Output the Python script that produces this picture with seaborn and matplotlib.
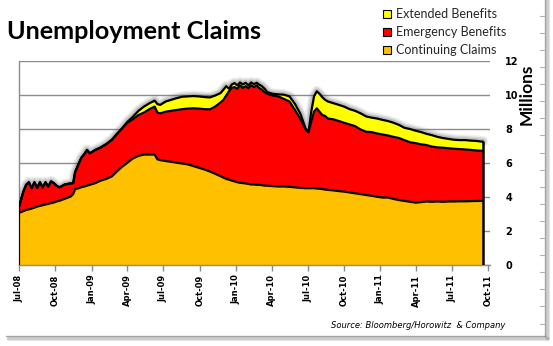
import matplotlib
matplotlib.use("Agg")
import matplotlib.pyplot as plt
from matplotlib.lines import Line2D
from matplotlib.patches import Patch
import seaborn as sns
import pandas as pd

# ---------------- data (millions) ----------------
dates = [
    "2008-07-01", "2008-07-12", "2008-07-19", "2008-07-26", "2008-08-02", "2008-08-09",
    "2008-08-16", "2008-08-23", "2008-08-30", "2008-09-06", "2008-09-13", "2008-09-20",
    "2008-09-27", "2008-10-04", "2008-10-11", "2008-10-25", "2008-11-08", "2008-11-15",
    "2008-11-20", "2008-11-29", "2008-12-06", "2008-12-13", "2008-12-20", "2008-12-27",
    "2009-01-03", "2009-01-10", "2009-01-24", "2009-02-07", "2009-02-21", "2009-03-04",
    "2009-03-18", "2009-04-01", "2009-04-15", "2009-04-29", "2009-05-13", "2009-05-27",
    "2009-06-09", "2009-06-16", "2009-06-23", "2009-07-07", "2009-07-21", "2009-08-04",
    "2009-08-18", "2009-09-01", "2009-09-15", "2009-09-29", "2009-10-13", "2009-10-27",
    "2009-11-09", "2009-11-23", "2009-11-30", "2009-12-07", "2009-12-14", "2009-12-21",
    "2009-12-28", "2010-01-04", "2010-01-11", "2010-01-18", "2010-01-25", "2010-02-01",
    "2010-02-08", "2010-02-15", "2010-02-22", "2010-02-28", "2010-03-07", "2010-03-14",
    "2010-03-21", "2010-04-04", "2010-04-18", "2010-05-02", "2010-05-16", "2010-05-30",
    "2010-06-13", "2010-06-26", "2010-07-03", "2010-07-10", "2010-07-17", "2010-07-24",
    "2010-07-31", "2010-08-07", "2010-08-14", "2010-08-21", "2010-09-04", "2010-09-18",
    "2010-10-01", "2010-10-15", "2010-10-29", "2010-11-12", "2010-11-26", "2010-12-10",
    "2010-12-23", "2011-01-06", "2011-01-20", "2011-02-03", "2011-02-17", "2011-03-03",
    "2011-03-17", "2011-03-31", "2011-04-14", "2011-04-27", "2011-05-11", "2011-05-25",
    "2011-06-08", "2011-06-22", "2011-07-06", "2011-07-20", "2011-08-03", "2011-08-17",
    "2011-08-31", "2011-09-14", "2011-09-17",
]
continuing = [
    3.05, 3.15, 3.22, 3.26, 3.30, 3.36, 3.42, 3.46, 3.50, 3.54, 3.58, 3.62,
    3.66, 3.72, 3.76, 3.88, 4.00, 4.15, 4.45, 4.50, 4.56, 4.60, 4.65, 4.70,
    4.75, 4.80, 4.95, 5.05, 5.20, 5.45, 5.75, 6.00, 6.25, 6.40, 6.48, 6.48,
    6.48, 6.20, 6.15, 6.10, 6.05, 6.00, 5.95, 5.90, 5.80, 5.70, 5.60, 5.48,
    5.35, 5.20, 5.12, 5.05, 5.00, 4.95, 4.90, 4.85, 4.82, 4.80, 4.78, 4.75,
    4.72, 4.72, 4.70, 4.70, 4.68, 4.65, 4.65, 4.62, 4.60, 4.60, 4.58, 4.55,
    4.52, 4.50, 4.50, 4.50, 4.50, 4.48, 4.47, 4.45, 4.42, 4.40, 4.37, 4.33,
    4.30, 4.25, 4.20, 4.15, 4.10, 4.05, 4.00, 3.95, 3.95, 3.87, 3.80, 3.75,
    3.70, 3.65, 3.68, 3.72, 3.70, 3.72, 3.70, 3.72, 3.72, 3.73, 3.73, 3.74,
    3.75, 3.75, 3.75,
]
emergency = [
    0.35, 1.15, 1.48, 1.59, 1.20, 1.49, 1.10, 1.39, 1.05, 1.31, 1.02, 1.28,
    1.14, 0.93, 0.79, 0.84, 0.78, 0.65, 1.00, 1.45, 1.74, 1.90, 2.10, 1.85,
    1.90, 1.95, 1.95, 2.05, 2.15, 2.20, 2.25, 2.35, 2.30, 2.40, 2.47, 2.67,
    2.82, 2.75, 2.75, 2.90, 3.00, 3.10, 3.20, 3.28, 3.40, 3.48, 3.55, 3.66,
    3.95, 4.35, 4.58, 4.90, 5.20, 5.45, 5.55, 5.50, 5.73, 5.60, 5.72, 5.63,
    5.83, 5.73, 5.85, 5.70, 5.62, 5.50, 5.40, 5.33, 5.30, 5.15, 5.02, 4.55,
    4.03, 3.45, 3.28, 3.90, 4.50, 4.72, 4.53, 4.35, 4.33, 4.20, 4.18, 4.12,
    4.05, 4.00, 3.95, 3.80, 3.72, 3.75, 3.72, 3.71, 3.65, 3.65, 3.65, 3.57,
    3.50, 3.50, 3.40, 3.32, 3.25, 3.18, 3.18, 3.13, 3.10, 3.07, 3.05, 3.01,
    2.97, 2.95, 2.95,
]
extended = [
    0.00, 0.00, 0.00, 0.00, 0.00, 0.00, 0.00, 0.00, 0.00, 0.00, 0.00, 0.00,
    0.00, 0.00, 0.00, 0.00, 0.00, 0.00, 0.00, 0.00, 0.00, 0.00, 0.00, 0.00,
    0.00, 0.00, 0.00, 0.00, 0.00, 0.00, 0.00, 0.05, 0.15, 0.25, 0.35, 0.35,
    0.35, 0.50, 0.50, 0.60, 0.65, 0.70, 0.73, 0.72, 0.72, 0.72, 0.71, 0.70,
    0.65, 0.55, 0.60, 0.55, 0.15, 0.20, 0.23, 0.20, 0.17, 0.20, 0.20, 0.17,
    0.17, 0.17, 0.15, 0.20, 0.20, 0.20, 0.10, 0.10, 0.12, 0.25, 0.30, 0.35,
    0.30, 0.05, 0.02, 0.60, 0.90, 1.00, 1.05, 1.05, 0.95, 1.00, 0.95, 0.95,
    0.95, 0.90, 0.90, 0.95, 0.90, 0.85, 0.88, 0.86, 0.85, 0.83, 0.77, 0.73,
    0.78, 0.73, 0.72, 0.66, 0.67, 0.62, 0.57, 0.55, 0.53, 0.53, 0.55, 0.55,
    0.56, 0.54, 0.54,
]

legend_labels = ["Extended Benefits", "Emergency Benefits", "Continuing Claims"]
band_colors = ["#FFFF00", "#FF0000", "#FFC000"]
y_ticks = [0, 2, 4, 6, 8, 10, 12]
x_tick_dates = ["2008-07-01", "2008-10-01", "2009-01-01", "2009-04-01", "2009-07-01",
                "2009-10-01", "2010-01-01", "2010-04-01", "2010-07-01", "2010-10-01",
                "2011-01-01", "2011-04-01", "2011-07-01", "2011-10-01"]
x_limits = ["2008-07-01", "2011-10-05"]
title = "Unemployment Claims"
y_label = "Millions"
source = "Source: Bloomberg/Horowitz  & Company"

# ---------------- figure ----------------
sns.set_theme(style="white")
plt.rcParams["font.family"] = ["DejaVu Sans"]

W, H = 553, 346
fig = plt.figure(figsize=(W / 100, H / 100), dpi=100)
fig.patch.set_facecolor("white")
ax = fig.add_axes([19 / W, (H - 264.7) / H, 471 / W, 204 / H])
ax.set_facecolor("white")

df = pd.DataFrame({
    "date": pd.to_datetime(dates),
    "continuing": continuing,
    "emergency": emergency,
    "extended": extended,
})
df["lvl1"] = df["continuing"]
df["lvl2"] = df["lvl1"] + df["emergency"]
df["lvl3"] = df["lvl2"] + df["extended"]

# soft shadow around outlines
for lw, a in [(8, 0.10), (6, 0.14), (4, 0.22)]:
    ax.plot(df["date"], df["lvl3"], color="#606060", lw=lw, alpha=a,
            solid_joinstyle="round", solid_capstyle="round", zorder=1.5)

ax.fill_between(df["date"], 0, df["lvl1"], color=band_colors[2], lw=0, zorder=2)
ax.fill_between(df["date"], df["lvl1"], df["lvl2"], color=band_colors[1], lw=0, zorder=2)
ax.fill_between(df["date"], df["lvl2"], df["lvl3"], color=band_colors[0], lw=0, zorder=2)

for col in ["lvl1", "lvl2", "lvl3"]:
    sns.lineplot(data=df, x="date", y=col, color="black", lw=1.6, ax=ax,
                 legend=False, zorder=3, sort=False)
ax.plot([df["date"].iloc[0]] * 2, [0, df["lvl3"].iloc[0]], color="black", lw=1.6, zorder=3)
ax.plot([df["date"].iloc[-1]] * 2, [0, df["lvl3"].iloc[-1]], color="black", lw=1.8, zorder=3)

ax.set_xlim(pd.Timestamp(x_limits[0]), pd.Timestamp(x_limits[1]))
ax.set_ylim(0, 12)
ax.set_xlabel("")
ax.set_ylabel("")

xt = pd.to_datetime(x_tick_dates)
ax.set_xticks(xt)
ax.set_xticklabels([d.strftime("%b-%y") for d in xt], rotation=90, fontsize=6,
                   fontweight="bold", color="black")
ax.tick_params(axis="x", bottom=True, direction="out", length=4, width=1,
               color="#8c8c8c", pad=3)

ax.yaxis.tick_right()
ax.set_yticks(y_ticks)
ax.set_yticklabels([str(v) for v in y_ticks], fontsize=7, fontweight="bold", color="black")
ax.tick_params(axis="y", right=False, left=False, length=0, pad=11)

ax.set_axisbelow(True)
ax.grid(axis="y", color="#8c8c8c", lw=1)
ax.grid(axis="x", visible=False)
for s in ["top", "right"]:
    ax.spines[s].set_visible(False)
for s in ["left", "bottom"]:
    ax.spines[s].set_color("#8c8c8c")
    ax.spines[s].set_linewidth(1)
ax.spines["left"].set_zorder(1)

# title and labels
fig.text(7 / W, 1 - 39 / H, title, fontsize=18.2, fontweight="bold",
         family=["Lato", "DejaVu Sans"], va="baseline", ha="left", color="black")
fig.text(527 / W, 1 - 94 / H, y_label, rotation=90, fontsize=12.5, fontweight="bold",
         family=["Lato", "DejaVu Sans"], ha="center", va="center", color="black")
fig.text(505 / W, 1 - 326 / H, source, fontsize=6, style="italic",
         ha="right", va="center", color="black")

# legend
handles = [Patch(facecolor=c, edgecolor="black", lw=0.8) for c in band_colors]
fig.legend(handles, legend_labels, loc="upper left",
           bbox_to_anchor=(383 / W, 1 - 8 / H), frameon=False,
           prop={"family": ["Lato", "DejaVu Sans"], "size": 9},
           handlelength=0.6, handleheight=0.6, handletextpad=0.4,
           labelspacing=0.5, borderpad=0, borderaxespad=0)

# page frame with shadow
for off, lw, a in [(0, 1.0, 0.6), (1.5, 2.5, 0.25), (3, 3, 0.12)]:
    fig.add_artist(Line2D([(545 + off) / W] * 2, [1 - (336 + off) / H, 1],
                          transform=fig.transFigure, color="#707070", lw=lw, alpha=a))
    fig.add_artist(Line2D([(6 + off) / W, (545 + off) / W], [1 - (336 + off) / H] * 2,
                          transform=fig.transFigure, color="#707070", lw=lw, alpha=a))
for k in range(-10, 9):
    yy = 186.7 + 17.1 * k
    fig.add_artist(Line2D([540 / W, 544 / W], [1 - yy / H] * 2,
                          transform=fig.transFigure, color="#b0b0b0", lw=0.8))

fig.savefig("out.png", dpi=100, facecolor="white")
